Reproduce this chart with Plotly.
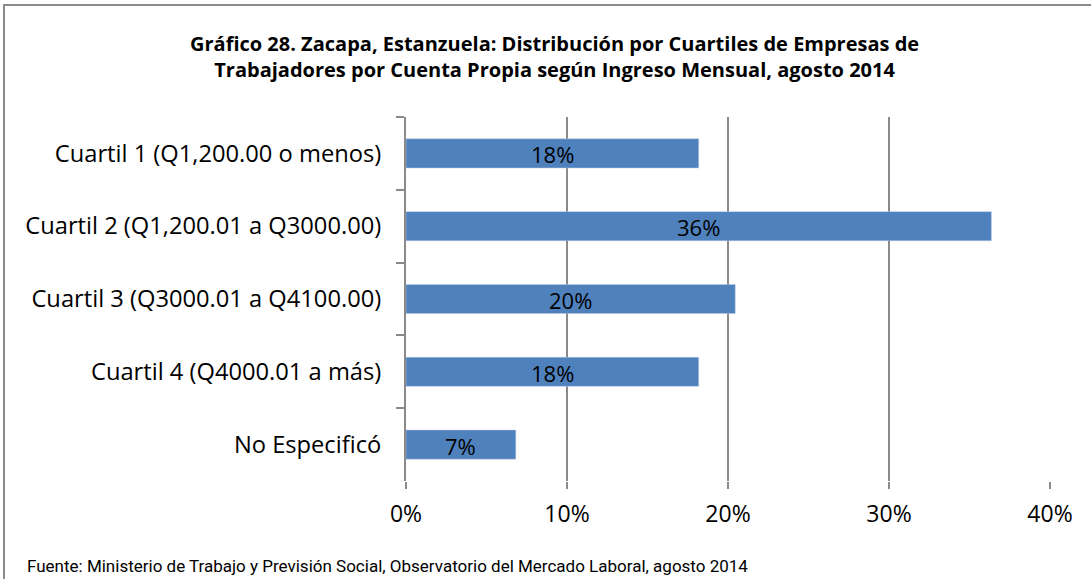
import plotly.graph_objects as go

categories = [
    "Cuartil 1 (Q1,200.00 o menos)",
    "Cuartil 2 (Q1,200.01 a Q3000.00)",
    "Cuartil 3 (Q3000.01 a Q4100.00)",
    "Cuartil 4 (Q4000.01 a más)",
    "No Especificó",
]
values = [0.1818, 0.3636, 0.2045, 0.1818, 0.0682]
labels = ["18%", "36%", "20%", "18%", "7%"]
x_ticks = [0, 0.1, 0.2, 0.3, 0.4]
x_tick_labels = ["0%", "10%", "20%", "30%", "40%"]

title_text = ("<b>Gráfico 28. Zacapa, Estanzuela: Distribución por Cuartiles de Empresas de<br>"
              "Trabajadores por Cuenta Propia según Ingreso Mensual, agosto 2014</b>")
source_text = "Fuente: Ministerio de Trabajo y Previsión Social, Observatorio del Mercado Laboral, agosto 2014"

W, H = 1091, 579
# plot area in screen pixels: x 406..1050, y 117..481
ML, MT = 406, 117
MR = W - 1050
MB = H - 481
PW = W - ML - MR
PH = H - MT - MB

def px_x(p):
    return (p - ML) / PW

def px_y(p):
    return (H - MB - p) / PH

FONT = "Open Sans, Lato, sans-serif"

fig = go.Figure()
fig.add_trace(go.Bar(
    x=values,
    y=categories,
    orientation="h",
    marker=dict(color="#4f81bd", line=dict(color="#b9cde5", width=0.5)),
    width=0.4,
    hoverinfo="skip",
))

data_labels = [
    dict(x=v / 2, y=c, xref="x", yref="y", text=t, showarrow=False,
         xanchor="center", yanchor="middle", yshift=-1,
         font=dict(family=FONT, size=22, color="#000000"))
    for v, c, t in zip(values, categories, labels)
]

fig.update_layout(
    width=W, height=H,
    margin=dict(l=ML, r=MR, t=MT, b=MB, pad=0, autoexpand=False),
    paper_bgcolor="white",
    plot_bgcolor="white",
    showlegend=False,
    font=dict(family=FONT, color="#000000"),
    xaxis=dict(
        range=[0, 0.4],
        tickvals=x_ticks,
        ticktext=x_tick_labels,
        showgrid=True,
        gridcolor="#8a8a8a",
        gridwidth=2,
        zeroline=False,
        showline=False,
        ticks="outside",
        ticklen=7,
        tickwidth=2,
        tickcolor="#8a8a8a",
        tickfont=dict(size=23),
        ticklabelstandoff=5,
        fixedrange=True,
    ),
    yaxis=dict(
        autorange="reversed",
        showgrid=False,
        zeroline=False,
        showline=True,
        linecolor="#8a8a8a",
        linewidth=2,
        ticks="outside",
        tickson="boundaries",
        ticklen=8,
        tickwidth=2,
        tickcolor="#8a8a8a",
        tickfont=dict(size=23.7),
        ticklabelstandoff=18,
        fixedrange=True,
    ),
    shapes=[
        dict(type="rect", xref="paper", yref="paper",
             x0=px_x(4), x1=px_x(1100), y0=px_y(5), y1=px_y(600),
             line=dict(color="#8c8c8c", width=2), fillcolor="rgba(0,0,0,0)", layer="below"),
    ],
    annotations=data_labels + [
        dict(text=title_text, xref="paper", yref="paper",
             x=px_x(554), y=px_y(57), xanchor="center", yanchor="middle",
             showarrow=False, align="center",
             font=dict(size=20, family=FONT, color="#000000")),
        dict(text=source_text, xref="paper", yref="paper",
             x=px_x(25), y=px_y(566), xanchor="left", yanchor="middle",
             showarrow=False, align="left",
             font=dict(size=17, family="Liberation Sans Narrow, Arial Narrow, Roboto, sans-serif", color="#000000")),
    ],
)

fig.write_html("out.html", config={"displayModeBar": False},
               post_script="document.body.style.margin='0px';")
